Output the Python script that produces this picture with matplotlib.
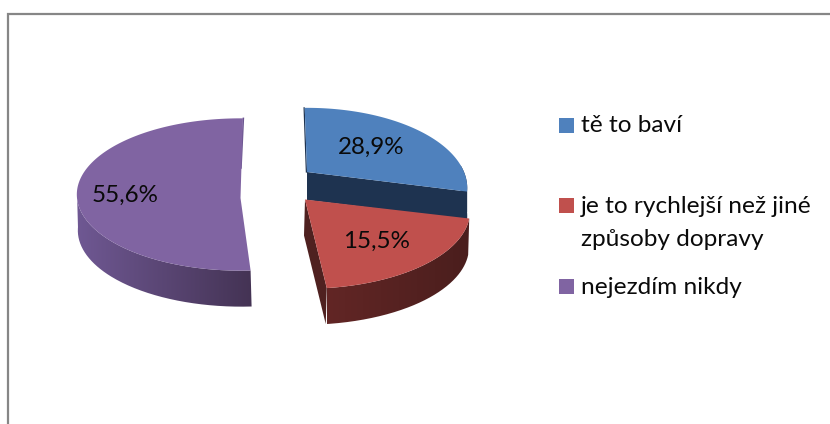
import numpy as np
import matplotlib
matplotlib.use("Agg")
import matplotlib.pyplot as plt
from matplotlib.colors import LinearSegmentedColormap
from matplotlib.patches import PathPatch, Polygon, Rectangle
from matplotlib.path import Path

plt.rcParams['font.family'] = ['Lato', 'DejaVu Sans']

labels = ["tě to baví", "je to rychlejší než jiné\nzpůsoby dopravy", "nejezdím nikdy"]
values = [28.9, 15.5, 55.6]
colors = ['#4f81bd', '#c0504d', '#8064a2']

# how each slice sits on the page (the old chart has a strong perspective)
apex = [(307, 172), (305, 199.5), (240.5, 198)]
radius_x = [157, 163, 163.5]
radius_y = [77, 75.6, 76]
persp = [0.2, 0.153, -0.046]
screen_angles = [(-14, 91), (-83.5, -14), (-270.8, -86.3)]
depth = [28, 36, 36]
side_shift = [0, -1, 1]
side_left = ['#1e3350', '#622625', '#6f5893']
side_right = ['#1e3350', '#4a1e1d', '#443354']
cut_color = ['#1e3350', '#4f2120', '#6b5690']
label_pos = [(371, 147), (376, 241), (125.5, 195)]
legend_y = [125.5, 205.5, 286.5]
text_y = [[125.5], [206.5, 239.5], [287.5]]

fig = plt.figure(figsize=(8.3, 4.24), dpi=100)
ax = fig.add_axes([0, 0, 1, 1])

# the pie only gives the angles of the slices, the wedges are redrawn below
wedges, _ = ax.pie(values, startangle=90, counterclock=False)
spans = [(w.theta1, w.theta2) for w in wedges]
for w in wedges:
    w.remove()
ax.set_aspect('auto')
ax.set_xlim(0, 830)
ax.set_ylim(424, 0)
ax.axis('off')


def project(i, theta):
    t = np.radians(theta)
    u, v = np.cos(t), np.sin(t)
    w = 1 + persp[i] * v
    return apex[i][0] + radius_x[i] * u / w, apex[i][1] - radius_y[i] * v / w


def draw_slice(i, z):
    a0, a1 = screen_angles[i]
    # keep the span from the pie, only stretched to the drawn angles
    t0, t1 = spans[i]
    frac = (np.linspace(t0, t1, 240) - t0) / (t1 - t0)
    theta = a0 + frac * (a1 - a0)
    x, y = project(i, theta)
    ax_, ay_ = apex[i]
    dx, dy = side_shift[i], depth[i]

    # outer side, gradient clipped to the extruded arc, only the near half shows
    near = np.sin(np.radians(theta)) <= 0.1
    bx, by = x[near], y[near]
    band = np.column_stack([np.r_[bx, bx[::-1] + dx], np.r_[by, by[::-1] + dy]])
    cmap = LinearSegmentedColormap.from_list('side', [side_left[i], side_right[i]])
    im = ax.imshow(np.linspace(0, 1, 256)[None, :], extent=(x.min(), x.max() + 1, y.max() + dy, y.min()),
                   aspect='auto', cmap=cmap, zorder=z, interpolation='bilinear')
    im.set_clip_path(PathPatch(Path(band), transform=ax.transData))

    # cut face that looks at the viewer
    if i != 2:
        ex, ey = x[0], y[0]
        ax.add_patch(Polygon([(ax_, ay_), (ex, ey), (ex + dx, ey + dy), (ax_ + dx, ay_ + dy)],
                             closed=True, fc=cut_color[i], ec='none', zorder=z + 0.1))

    # thin sliver along the far cut edge
    if i == 0:
        ax.plot([x[-1] - 0.6, ax_ - 0.6], [y[-1], ay_], color=cut_color[i], lw=0.9, zorder=z + 0.15)
    elif i == 2:
        ax.plot([x[0] + 0.5, ax_ + 0.5], [y[0], ay_ - 30], color=cut_color[i], lw=1.1, zorder=z + 0.15)

    top = np.vstack([[ax_, ay_], np.column_stack([x, y])])
    ax.add_patch(Polygon(top, closed=True, fc=colors[i], ec='none', zorder=z + 0.2))


draw_slice(2, 1)
draw_slice(0, 2)
draw_slice(1, 3)

for v, (x, y) in zip(values, label_pos):
    ax.text(x, y, f"{v:.1f}".replace('.', ',') + "%", fontsize=17.4, ha='center', va='center',
            color='#0a0a0a', zorder=6)

for lab, c, ly, ty in zip(labels, colors, legend_y, text_y):
    ax.add_patch(Rectangle((559, ly - 7.5), 15, 15, fc=c, ec='none', zorder=6))
    for line, y in zip(lab.split('\n'), ty):
        ax.text(581, y, line, fontsize=17.6, ha='left', va='center', color='#0a0a0a', zorder=6)

# chart frame, runs off the picture on the right and at the bottom
ax.plot([8, 8, 830], [424, 14, 14], color='#868686', lw=1.6, clip_on=False, zorder=7,
        solid_joinstyle='miter')

fig.savefig('out.png', dpi=100)
